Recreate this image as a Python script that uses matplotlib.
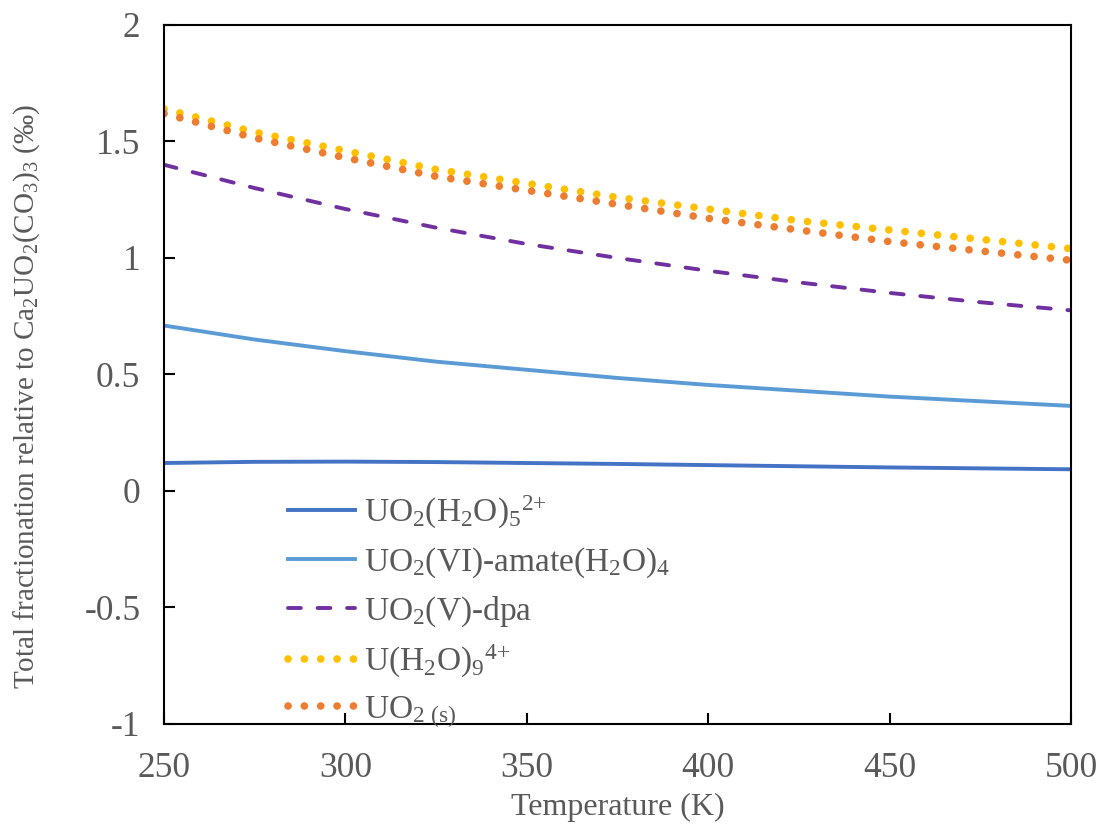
import matplotlib
matplotlib.use('Agg')
import matplotlib.pyplot as plt

# данные
temperature = [250, 275, 300, 325, 350, 375, 400, 425, 450, 475, 500]
uo2_h2o5 = [0.120, 0.125, 0.126, 0.124, 0.120, 0.116, 0.111, 0.106, 0.101, 0.097, 0.093]
uo2_amate = [0.710, 0.650, 0.600, 0.555, 0.520, 0.485, 0.455, 0.430, 0.405, 0.385, 0.365]
uo2_dpa = [1.400, 1.300, 1.210, 1.130, 1.060, 1.000, 0.945, 0.895, 0.850, 0.810, 0.775]
u_h2o9 = [1.640, 1.540, 1.460, 1.380, 1.320, 1.260, 1.210, 1.160, 1.120, 1.080, 1.040]
uo2_s = [1.620, 1.515, 1.430, 1.350, 1.290, 1.230, 1.170, 1.120, 1.070, 1.030, 0.990]

labels = [
    r'UO$_2$(H$_2$O)$_5$$^{2{+}}$',
    r'UO$_2$(VI)-amate(H$_2$O)$_4$',
    r'UO$_2$(V)-dpa',
    r'U(H$_2$O)$_9$$^{4{+}}$',
    r'UO$_2$$_{\ (s)}$',
]
x_ticks = [250, 300, 350, 400, 450, 500]
y_ticks = [-1, -0.5, 0, 0.5, 1, 1.5, 2]
y_tick_labels = ['-1', '-0.5', '0', '0.5', '1', '1.5', '2']

plt.rcParams['font.family'] = ['Liberation Serif', 'DejaVu Serif']
plt.rcParams['mathtext.fontset'] = 'custom'
plt.rcParams['mathtext.rm'] = 'Liberation Serif'
plt.rcParams['mathtext.it'] = 'Liberation Serif:italic'
plt.rcParams['mathtext.default'] = 'regular'

gray = '#595959'


def plot_graph():
    fig = plt.figure(figsize=(10.97, 8.24), dpi=100)
    ax = fig.add_axes([0.1495, 0.1214, 0.8268, 0.8483])

    ax.plot(temperature, uo2_h2o5, color='#4472C4', lw=2.8, label=labels[0])
    ax.plot(temperature, uo2_amate, color='#5B9BD5', lw=2.8, label=labels[1])
    ax.plot(temperature, uo2_dpa, color='#7030A0', lw=2.8,
            linestyle=(0, (3.3, 4.3)), dash_capstyle='round', label=labels[2])
    ax.plot(temperature, u_h2o9, color='#FFC000', lw=5.5,
            linestyle=(0, (0.01, 2.13)), dash_capstyle='round', label=labels[3])
    ax.plot(temperature, uo2_s, color='#ED7D31', lw=5.5,
            linestyle=(0, (0.01, 2.13)), dash_capstyle='round', label=labels[4])

    ax.set_xlim(250, 500)
    ax.set_ylim(-1, 2)
    ax.set_xticks(x_ticks)
    ax.set_yticks(y_ticks)
    ax.set_yticklabels(y_tick_labels)
    ax.tick_params(direction='in', length=8, width=1.5, labelsize=25.5,
                   labelcolor=gray)
    ax.tick_params(axis='x', pad=20)
    ax.tick_params(axis='y', pad=17)
    for s in ax.spines.values():
        s.set_linewidth(1.5)
        s.set_color('black')

    ax.set_xlabel('Temperature (K)', fontsize=23, color=gray, labelpad=6)
    ax.set_ylabel(r'Total fractionation relative to Ca$_2$UO$_2$(CO$_3$)$_3$ (‰)',
                  fontsize=21, color=gray)
    ax.yaxis.set_label_coords(-0.1345, 0.468)

    leg = ax.legend(loc='upper left', bbox_to_anchor=(0.137, 0.329), frameon=False,
                    fontsize=24, handlelength=2.0, handletextpad=0.28,
                    labelspacing=0.43, borderpad=0, borderaxespad=0)
    for t in leg.get_texts():
        t.set_color(gray)

    fig.savefig('out.png', dpi=100)


if __name__ == '__main__':
    plot_graph()
